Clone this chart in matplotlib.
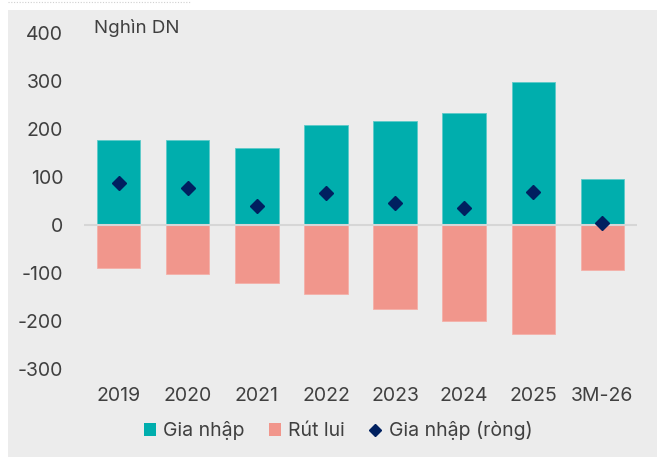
import matplotlib
matplotlib.use("Agg")
import matplotlib.pyplot as plt
from matplotlib.patches import Rectangle, Patch
from matplotlib.lines import Line2D
import numpy as np

categories = ["2019", "2020", "2021", "2022", "2023", "2024", "2025", "3M-26"]
gia_nhap = [177, 177, 160, 207, 215, 233, 296, 94]
rut_lui = [-91, -104, -121, -144, -175, -200, -228, -95]
gia_nhap_rong = [87, 77, 39, 65, 44, 34, 68, 4]
y_ticks = [-300, -200, -100, 0, 100, 200, 300, 400]

TEAL = "#00AEAD"
SALMON = "#F1968C"
NAVY = "#002060"
TEXT = "#404040"
BG = "#ECECEC"
FS = 14

plt.rcParams["font.family"] = ["Inter", "DejaVu Sans"]

W, H = 657, 457
fig = plt.figure(figsize=(W / 100, H / 100), dpi=100)
fig.patch.set_facecolor("white")
# gray panel
fig.patches.append(Rectangle((8 / W, 0), 1 - 8 / W, 1 - 10 / H,
                             transform=fig.transFigure, facecolor=BG,
                             edgecolor="none", zorder=-10))
fig.add_artist(Line2D([8 / W, 190 / W], [1 - 1.5 / H, 1 - 1.5 / H],
                      transform=fig.transFigure, color="#D0D0D0",
                      lw=0.8, ls=(0, (1, 1.5))))

ax = fig.add_axes([84 / W, 1 - 368.5 / H, (637 - 84) / W, (368.5 - 32.5) / H])
ax.set_facecolor("none")
x = np.arange(len(categories))
bw = 0.63
ax.bar(x, gia_nhap, width=bw, color=TEAL, edgecolor="#5CCAC9", lw=0.6, zorder=2)
ax.bar(x, rut_lui, width=bw, color=SALMON, edgecolor="#F5B0A8", lw=0.6, zorder=2)
ax.axhline(0, color="#D6D6D6", lw=1.5, zorder=3)
ax.plot(x, gia_nhap_rong, ls="none", marker="D", ms=7.5, color=NAVY, zorder=4)

ax.set_xlim(-0.5, len(categories) - 0.5)
ax.set_ylim(-300, 400)
ax.set_yticks(y_ticks)
ax.set_yticklabels([str(v) for v in y_ticks])
ax.set_xticks(x)
ax.set_xticklabels(categories)
ax.tick_params(axis="both", length=0, labelsize=FS, colors=TEXT)
ax.tick_params(axis="y", pad=15)
ax.tick_params(axis="x", pad=13)
for s in ax.spines.values():
    s.set_visible(False)

fig.text(94 / W, 1 - 28 / H, "Nghìn DN", fontsize=FS - 0.5, color=TEXT,
         ha="left", va="center")

handles = [Patch(facecolor=TEAL, edgecolor="none"),
           Patch(facecolor=SALMON, edgecolor="none"),
           Line2D([], [], ls="none", marker="D", ms=6, color=NAVY)]
labels = ["Gia nhập", "Rút lui", "Gia nhập (ròng)"]
leg = fig.legend(handles, labels, loc="center", ncol=3,
                 bbox_to_anchor=(338 / W, 1 - 431 / H), frameon=False,
                 fontsize=FS, handlelength=0.62, handleheight=0.65,
                 handletextpad=0.38, columnspacing=1.25, labelcolor=TEXT)

fig.savefig("out.png", dpi=100)
